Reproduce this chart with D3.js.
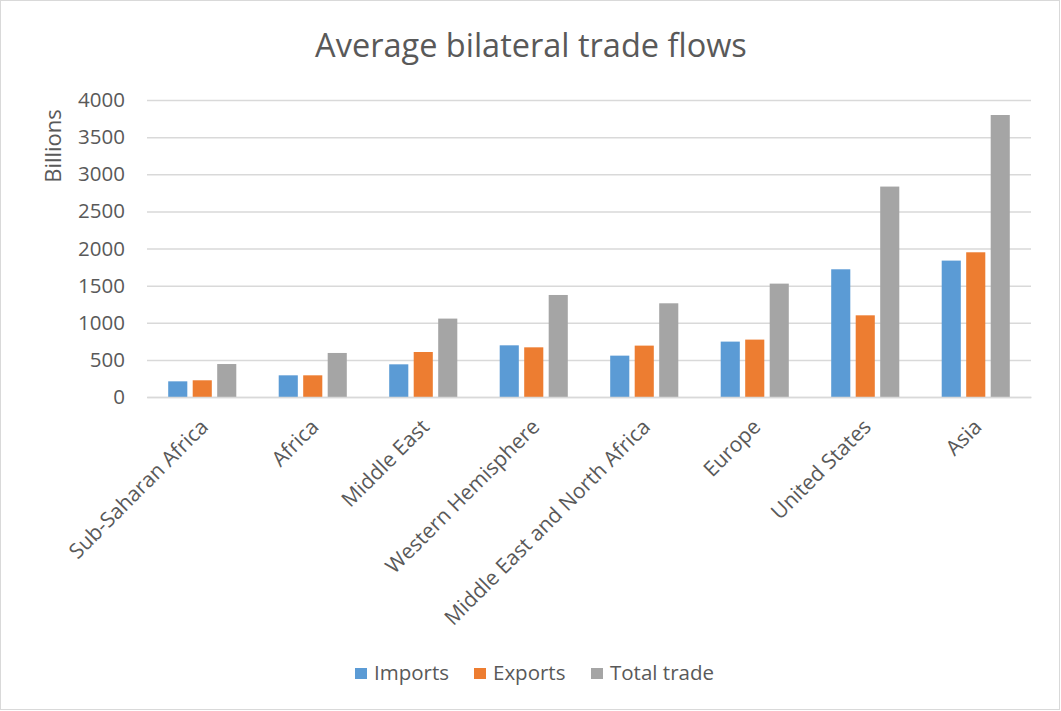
<!DOCTYPE html>
<html>
<head>
<meta charset="utf-8">
<script src="https://cdn.jsdelivr.net/npm/d3@7"></script>
<style>
  body { margin: 0; background: #fff; }
  text { font-family: "Open Sans", Lato, sans-serif; fill: #595959; }
</style>
</head>
<body>
<div id="chart-container"></div>
<script>
// Categories along the x axis
const categories = ["Sub-Saharan Africa", "Africa", "Middle East", "Western Hemisphere",
  "Middle East and North Africa", "Europe", "United States", "Asia"];

// Series values (billions)
const imports    = [211, 292, 440, 696, 557, 746, 1720, 1837];
const exports    = [225, 292, 606, 669, 692, 773, 1100, 1949];
const totalTrade = [444, 593, 1056, 1374, 1262, 1527, 2834, 3798];

const seriesNames = ["Imports", "Exports", "Total trade"];
const seriesColors = ["#5b9bd5", "#ed7d31", "#a5a5a5"];
const yTicks = [0, 500, 1000, 1500, 2000, 2500, 3000, 3500, 4000];

const W = 1061, H = 711;
const plotLeft = 147, plotRight = 1031, plotTop = 100, plotBottom = 397;
const fontFam = "'Open Sans', Lato, sans-serif";

const seriesValues = [imports, exports, totalTrade];
const rows = categories.map((c, i) => ({
  category: c,
  values: seriesNames.map((s, j) => ({ series: s, value: seriesValues[j][i], idx: j }))
}));

const svg = d3.select("#chart-container")
  .append("svg")
  .attr("width", W)
  .attr("height", H);

// outer chart border
svg.append("rect")
  .attr("x", 0.5).attr("y", 0.5)
  .attr("width", W - 2).attr("height", H - 2)
  .attr("fill", "#fff")
  .attr("stroke", "#d9d9d9");

const x0 = d3.scaleBand()
  .domain(categories)
  .range([plotLeft, plotRight])
  .paddingInner(0.335)
  .paddingOuter(0.1675);

const x1 = d3.scaleBand()
  .domain(seriesNames)
  .range([0, x0.bandwidth()])
  .paddingInner(0.22)
  .paddingOuter(0.11);

const y = d3.scaleLinear()
  .domain([0, 4000])
  .range([plotBottom, plotTop]);

// gridlines + y labels
const yAxis = d3.axisLeft(y)
  .tickValues(yTicks)
  .tickFormat(d3.format("d"))
  .tickSize(-(plotRight - plotLeft))
  .tickPadding(22);

const yg = svg.append("g")
  .attr("transform", `translate(${plotLeft},0)`)
  .call(yAxis);
yg.select(".domain").remove();
yg.selectAll(".tick line").attr("stroke", "#d9d9d9").attr("stroke-width", 1.5);
yg.selectAll(".tick text")
  .attr("font-size", "20.5px")
  .attr("fill", "#595959")
  .style("font-family", fontFam);

// bars
const groups = svg.selectAll(".bar-group")
  .data(rows)
  .enter()
  .append("g")
  .attr("class", "bar-group")
  .attr("transform", d => `translate(${x0(d.category)},0)`);

groups.selectAll("rect")
  .data(d => d.values)
  .enter()
  .append("rect")
  .attr("x", d => x1(d.series))
  .attr("y", d => y(d.value))
  .attr("width", x1.bandwidth())
  .attr("height", d => y(0) - y(d.value))
  .attr("fill", d => seriesColors[d.idx]);

// x axis (line + category labels)
const xAxis = d3.axisBottom(x0).tickSize(0).tickPadding(0);
const xg = svg.append("g")
  .attr("transform", `translate(0,${plotBottom})`)
  .call(xAxis);
xg.select(".domain").attr("stroke", "#d9d9d9").attr("stroke-width", 1.5);
xg.selectAll(".tick text")
  .attr("font-size", "21px")
  .attr("fill", "#595959")
  .style("font-family", fontFam)
  .attr("text-anchor", "end")
  .attr("dy", "0.35em")
  .attr("transform", "translate(2,26) rotate(-45)");

// y axis title
svg.append("text")
  .attr("transform", `translate(61,146) rotate(-90)`)
  .attr("text-anchor", "middle")
  .attr("font-size", "22px")
  .text("Billions");

// chart title
svg.append("text")
  .attr("x", 531)
  .attr("y", 57)
  .attr("text-anchor", "middle")
  .attr("font-size", "32.5px")
  .text("Average bilateral trade flows");

// legend
const legendX = [355, 474, 591];
const legend = svg.selectAll(".legend")
  .data(seriesNames)
  .enter()
  .append("g")
  .attr("class", "legend")
  .attr("transform", (d, i) => `translate(${legendX[i]},668)`);
legend.append("rect")
  .attr("width", 12).attr("height", 11)
  .attr("fill", (d, i) => seriesColors[i]);
legend.append("text")
  .attr("x", 19)
  .attr("y", 12)
  .attr("font-size", "20.5px")
  .text(d => d);
</script>
</body>
</html>
